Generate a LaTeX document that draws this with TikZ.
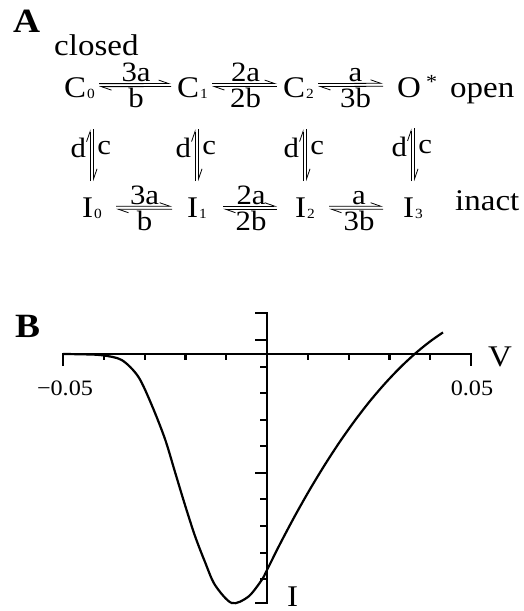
\documentclass[tikz,border=0pt]{standalone}
\usepackage{fontspec}
\setmainfont{Liberation Serif}[FakeStretch=1.1]
\usetikzlibrary{arrows.meta}

% small subscript, sitting near the baseline
\newcommand{\lo}[1]{{\kern1pt\fontsize{14}{14}\selectfont\raisebox{-1pt}{#1}}}

\tikzset{
  txt/.style={inner sep=0pt, font=\fontsize{30}{32}\selectfont},
  word/.style={inner sep=0pt, font=\fontsize{30}{32}\selectfont},
  rate/.style={inner sep=1.5pt, font=\fontsize{28}{30}\selectfont},
  harp/.style={line width=0.8pt, -{Straight Barb[left,length=10pt,width=7pt]}},
  panel/.style={inner sep=0pt, font=\fontsize{34}{36}\selectfont\bfseries},
  ticklab/.style={inner sep=0pt, font=\fontsize{22}{24}\selectfont},
  axis/.style={line width=2.2pt},
}

\begin{document}
\begin{tikzpicture}[x=1pt,y=-1pt]
\useasboundingbox (0,0) rectangle (523,611);

% A: gating scheme
\node[panel, anchor=base west] (pa) at (13,32) {A};
\node[word, anchor=base west] (closed) at (54,55) {closed};

\node[txt, anchor=base west] (C0) at (64,97) {C\lo{0}};
\node[txt, anchor=base west] (C1) at (177,97) {C\lo{1}};
\node[txt, anchor=base west] (C2) at (283,97) {C\lo{2}};
\node[txt, anchor=base west] (O) at (397,97) {O\,\raisebox{9pt}[0pt][0pt]{\fontsize{20}{20}\selectfont *}};
\node[word, anchor=base west] (open) at (450,97) {open};

\node[txt, anchor=base west] (I0) at (82,217) {I\lo{0}};
\node[txt, anchor=base west] (I1) at (187,217) {I\lo{1}};
\node[txt, anchor=base west] (I2) at (295,217) {I\lo{2}};
\node[txt, anchor=base west] (I3) at (403,217) {I\lo{3}};
\node[word, anchor=base west] (inact) at (455,210) {inact};

% horizontal pairs
\foreach \a/\b/\up/\dn/\sa/\sb/\dy in {C0/C1/3a/b/4/6/2.5, C1/C2/2a/2b/4/6/2.5, C2/O/a/3b/4/14/2.5,
                                 I0/I1/3a/b/14/15/0, I1/I2/2a/2b/16/18/0, I2/I3/a/3b/14/20/0}{
  \draw[harp, shorten <=\sa pt, shorten >=\sb pt] ([yshift=\dy pt+1.5pt]\a.east) -- ([yshift=\dy pt+1.5pt]\b.west)
    node[rate, midway, above] {\up};
  \draw[harp, shorten <=\sb pt, shorten >=\sa pt] ([yshift=\dy pt-1.5pt]\b.west) -- ([yshift=\dy pt-1.5pt]\a.east)
    node[rate, midway, below] {\dn};
}

% vertical pairs
\foreach \c/\i in {C0/I0, C1/I1, C2/I2, O/I3}{
  \draw[harp, shorten <=16pt, shorten >=31pt] ([xshift=-2pt]\i.north) -- ([xshift=-2pt]\i.north |- \c.south)
    node[rate, midway, left=2pt] {d};
  \draw[harp, shorten <=31pt, shorten >=16pt] ([xshift=1.5pt]\i.north |- \c.south) -- ([xshift=1.5pt]\i.north)
    node[rate, midway, right=2pt] {c};
}

% B: I-V curve
\node[panel, anchor=base west] (pb) at (15,337) {B};

\draw[axis] (63,366) -- (63,354) -- (471,354) -- (471,366);
\draw[axis] (255,313) -- (267,313) -- (267,603) -- (255,603);
\foreach \k in {1,2,3,4,6,7,8,9}
  \draw[axis] (63+40.8*\k,354) -- ++(0,6);
\foreach \t in {366.7,393.3,420,446,499.3,526,552.7,579.3}
  \draw[axis] (267,\t) -- ++(-7,0);
\foreach \t in {340,472.7}
  \draw[axis] (267,\t) -- ++(-12,0);

\node[ticklab] (vmin) at (65,388) {−0.05};
\node[ticklab] (vmax) at (472,388) {0.05};
\node[word] (vlab) at (500,357) {V};
\node[txt, anchor=base west] (ilab) at (287,606) {I};

\draw[line width=2.2pt] plot[smooth] coordinates {
  (63,354) (82,354.3) (101.7,355.2) (121.7,360) (138.3,376.7) (151.7,405)
  (165,439) (175,472) (185,505) (195,536) (205,562) (215,585)
  (231.7,603) (248.3,596.7) (261.7,580) (267,570) (280,544) (295,515.7)
  (310,489.2) (325,464.5) (340,441.5) (355,420.4) (370,401) (385,383.5)
  (400,367.7) (415,353.7) (430,341.5) (443,332.4)};
\end{tikzpicture}
\end{document}
